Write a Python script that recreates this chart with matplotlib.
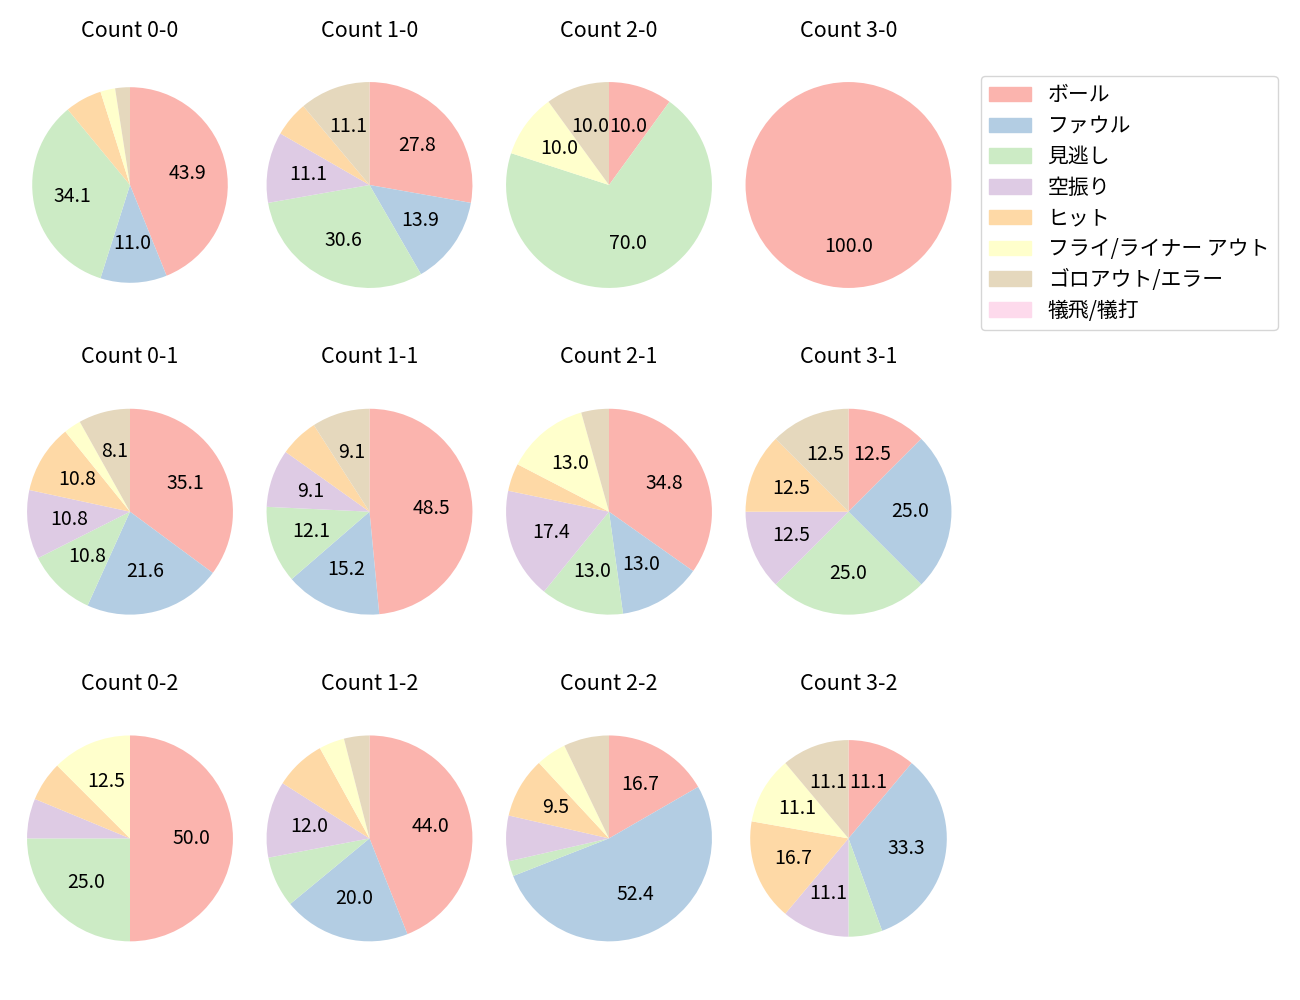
import matplotlib
matplotlib.use('Agg')
import matplotlib.pyplot as plt
import matplotlib.patches as mpatches

plt.rcParams['font.family'] = ['Noto Sans CJK JP', 'DejaVu Sans']

categories = ['ボール', 'ファウル', '見逃し', '空振り', 'ヒット',
              'フライ/ライナー アウト', 'ゴロアウト/エラー', '犠飛/犠打']

# counts per category for each ball-strike count
count_0_0 = [36, 9, 28, 0, 5, 2, 2, 0]
count_1_0 = [10, 5, 11, 4, 2, 0, 4, 0]
count_2_0 = [1, 0, 7, 0, 0, 1, 1, 0]
count_3_0 = [1, 0, 0, 0, 0, 0, 0, 0]
count_0_1 = [13, 8, 4, 4, 4, 1, 3, 0]
count_1_1 = [16, 5, 4, 3, 2, 0, 3, 0]
count_2_1 = [8, 3, 3, 4, 1, 3, 1, 0]
count_3_1 = [1, 2, 2, 1, 1, 0, 1, 0]
count_0_2 = [8, 0, 4, 1, 1, 2, 0, 0]
count_1_2 = [11, 5, 2, 3, 2, 1, 1, 0]
count_2_2 = [7, 22, 1, 3, 4, 2, 3, 0]
count_3_2 = [2, 6, 1, 2, 3, 2, 2, 0]

titles = ['Count 0-0', 'Count 1-0', 'Count 2-0', 'Count 3-0',
          'Count 0-1', 'Count 1-1', 'Count 2-1', 'Count 3-1',
          'Count 0-2', 'Count 1-2', 'Count 2-2', 'Count 3-2']
data = [count_0_0, count_1_0, count_2_0, count_3_0,
        count_0_1, count_1_1, count_2_1, count_3_1,
        count_0_2, count_1_2, count_2_2, count_3_2]

radii = [0.95, 1, 1, 1, 1, 1, 1, 1, 1, 1, 1, 0.955]

colors = [plt.cm.Pastel1(i) for i in range(8)]

W, H = 1300, 1000
fig = plt.figure(figsize=(13, 10), dpi=100)

S = 280
lim = 1.36


def autopct(p):
    return f'{p:.1f}' if p > 8.05 else ''


for i, (vals, title) in enumerate(zip(data, titles)):
    row, col = divmod(i, 4)
    cx = 130 + col * 239.5
    cy = 185 + row * 326.7
    ax = fig.add_axes([(cx - S / 2) / W, 1 - (cy + S / 2) / H, S / W, S / H])
    ax.pie(vals, colors=colors, startangle=90, counterclock=False,
           autopct=autopct, radius=radii[i], textprops={'fontsize': 14})
    ax.set_xlim(-lim, lim)
    ax.set_ylim(-lim, lim)
    ax.set_aspect('equal')
    ax.set_title(title, fontsize=15.5)

handles = [mpatches.Patch(color=c, label=l) for c, l in zip(colors, categories)]
fig.legend(handles=handles, loc='upper left', bbox_to_anchor=(981 / W, 1 - 76 / H),
           borderaxespad=0, fontsize=15, labelspacing=0.42)

fig.savefig('out.png', dpi=100)
